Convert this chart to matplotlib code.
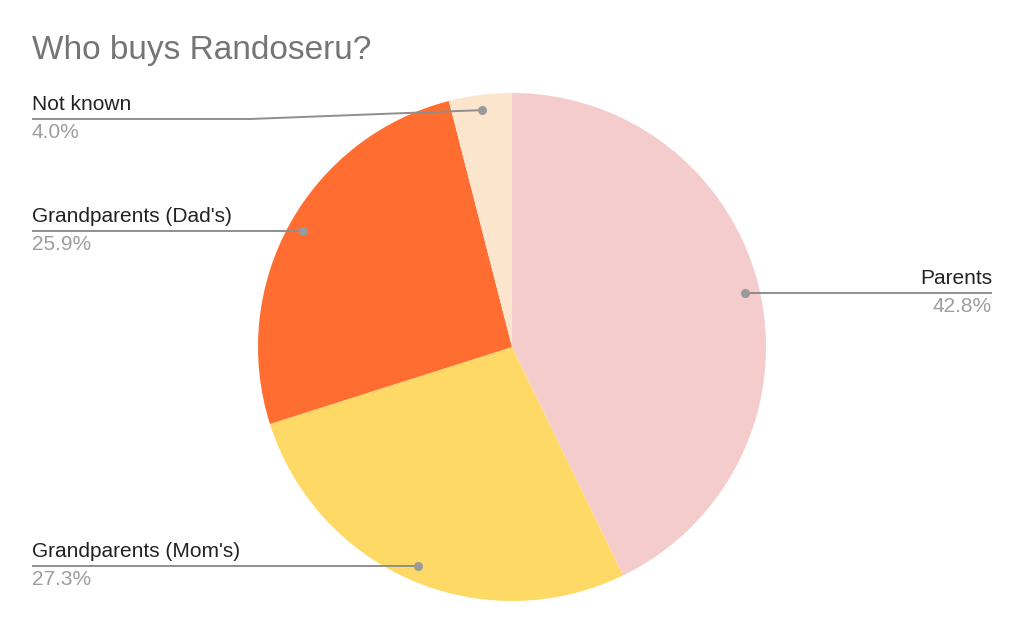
import numpy as np
import matplotlib.pyplot as plt

# Data
labels = ["Parents", "Grandparents (Mom's)", "Grandparents (Dad's)", "Not known"]
shares = [42.8, 27.3, 25.9, 4.0]
colors = ["#F4CCCC", "#FFD966", "#FF6D31", "#FCE5CD"]

W, H = 1024, 633
fig = plt.figure(figsize=(W / 100, H / 100), dpi=100)
ax = fig.add_axes([0, 0, 1, 1])
plt.rcParams["font.family"] = ["Liberation Sans", "DejaVu Sans"]

cx, cy, r = 512, H - 347, 254
wedges, _ = ax.pie(shares, colors=colors, startangle=90, counterclock=False,
                   center=(cx, cy), radius=r, frame=True,
                   wedgeprops=dict(edgecolor="none", linewidth=0))
ax.set_xlim(0, W)
ax.set_ylim(0, H)
ax.axis("off")

ax.text(32, H - 51, "Who buys Randoseru?", fontsize=24, color="#757575",
        va="center", ha="left", family="Liberation Sans")

# label layout: (text x, side, elbow (x, y px) or None)
layout = {
    "Parents": (992, "right", None),
    "Grandparents (Mom's)": (32, "left", None),
    "Grandparents (Dad's)": (32, "left", None),
    "Not known": (32, "left", (250, 119)),
}

for w, lab, val in zip(wedges, labels, shares):
    mid = np.deg2rad((w.theta1 + w.theta2) / 2)
    px = cx + 0.94 * r * np.cos(mid)
    py = cy + 0.94 * r * np.sin(mid)
    tx, side, elbow = layout[lab]
    if elbow is not None:
        ly = H - elbow[1]
        xs, ys = [tx, elbow[0], px], [ly, ly, py]
    else:
        ly = py
        xs, ys = [tx, px], [ly, py]
    ha = "right" if side == "right" else "left"
    ax.plot(xs, ys, color="#8E8E8E", lw=1.4, solid_capstyle="butt")
    ax.plot([px], [py], "o", color="#9A9A9A", ms=5.5)
    ax.text(tx, ly + 5, lab, fontsize=15, color="#222222", ha=ha, va="bottom")
    ax.text(tx, ly - 4, f"{val:.1f}%", fontsize=15, color="#9E9E9E", ha=ha, va="top")

fig.savefig("out.png", dpi=100)
